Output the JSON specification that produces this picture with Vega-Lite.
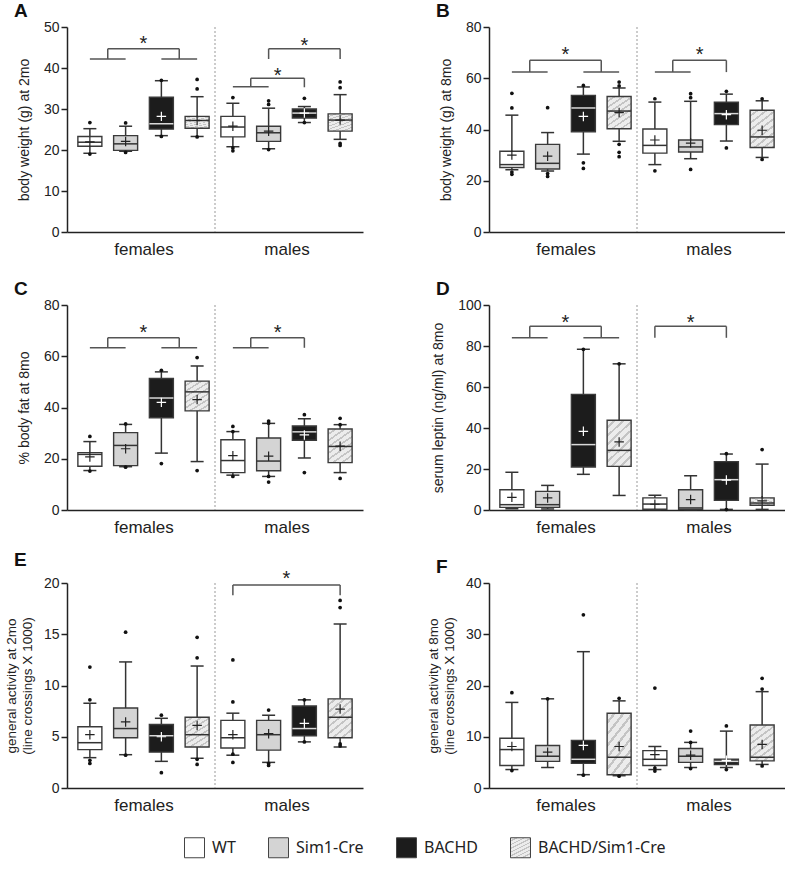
{
"$schema": "https://vega.github.io/schema/vega-lite/v6.json",
"background": "white",
"padding": {"left": 4, "top": 2, "right": 0, "bottom": 0},
"config": {
  "view": {"stroke": null},
  "font": "Liberation Sans",
  "axis": {"domainColor": "#222", "domainWidth": 1.5, "tickColor": "#222", "tickWidth": 1.5, "tickSize": 6, "labelFontSize": 14, "labelColor": "#222", "titleFontSize": 14, "titleFontWeight": "normal", "titleColor": "#222", "grid": false, "labelPadding": 2, "labelFont": "Liberation Sans", "titleFont": "Liberation Sans"},
  "axisY": {"titlePadding": 12},
  "title": {"anchor": "start", "frame": "group", "dx": -53, "fontSize": 19, "fontWeight": "bold", "offset": -1, "color": "#111", "font": "Liberation Sans"}
},
"datasets": {
  "box": [
    {"p":"A","pos":1,"g":"WT","lo":19.2,"q1":20.9,"med":21.9,"q3":23.3,"hi":25.2,"mean":22.0},
    {"p":"A","pos":2,"g":"Sim1-Cre","lo":19.7,"q1":19.9,"med":21.5,"q3":23.5,"hi":25.8,"mean":22.1},
    {"p":"A","pos":3,"g":"BACHD","lo":23.5,"q1":25.1,"med":26.4,"q3":32.9,"hi":36.9,"mean":28.2},
    {"p":"A","pos":4,"g":"BACHD/Sim1-Cre","lo":23.3,"q1":25.3,"med":27.2,"q3":28.2,"hi":33.0,"mean":27.2},
    {"p":"A","pos":5,"g":"WT","lo":20.8,"q1":23.2,"med":25.6,"q3":28.2,"hi":31.4,"mean":25.8},
    {"p":"A","pos":6,"g":"Sim1-Cre","lo":20.3,"q1":22.1,"med":24.2,"q3":25.8,"hi":30.2,"mean":24.6},
    {"p":"A","pos":7,"g":"BACHD","lo":26.7,"q1":27.8,"med":29.0,"q3":30.0,"hi":30.6,"mean":29.0},
    {"p":"A","pos":8,"g":"BACHD/Sim1-Cre","lo":22.6,"q1":24.6,"med":27.3,"q3":28.8,"hi":33.5,"mean":27.3},
    {"p":"B","pos":1,"g":"WT","lo":24.3,"q1":25.2,"med":26.3,"q3":31.5,"hi":45.6,"mean":30.0},
    {"p":"B","pos":2,"g":"Sim1-Cre","lo":23.8,"q1":24.6,"med":26.8,"q3":34.2,"hi":38.8,"mean":29.6},
    {"p":"B","pos":3,"g":"BACHD","lo":30.4,"q1":39.1,"med":48.4,"q3":53.3,"hi":56.6,"mean":45.1},
    {"p":"B","pos":4,"g":"BACHD/Sim1-Cre","lo":35.4,"q1":40.3,"med":47.2,"q3":52.9,"hi":56.2,"mean":46.6},
    {"p":"B","pos":5,"g":"WT","lo":26.3,"q1":30.8,"med":33.8,"q3":40.2,"hi":50.7,"mean":35.9},
    {"p":"B","pos":6,"g":"Sim1-Cre","lo":28.6,"q1":31.2,"med":33.2,"q3":35.9,"hi":51.0,"mean":34.7},
    {"p":"B","pos":7,"g":"BACHD","lo":35.5,"q1":41.9,"med":46.2,"q3":50.7,"hi":53.8,"mean":45.8},
    {"p":"B","pos":8,"g":"BACHD/Sim1-Cre","lo":29.1,"q1":33.0,"med":37.1,"q3":47.5,"hi":51.2,"mean":39.7},
    {"p":"C","pos":1,"g":"WT","lo":15.4,"q1":17.1,"med":21.7,"q3":22.4,"hi":26.7,"mean":20.7},
    {"p":"C","pos":2,"g":"Sim1-Cre","lo":16.9,"q1":17.3,"med":25.2,"q3":30.2,"hi":33.4,"mean":23.9},
    {"p":"C","pos":3,"g":"BACHD","lo":22.2,"q1":36.0,"med":43.7,"q3":51.3,"hi":53.9,"mean":42.0},
    {"p":"C","pos":4,"g":"BACHD/Sim1-Cre","lo":18.9,"q1":38.7,"med":46.1,"q3":50.3,"hi":56.2,"mean":43.1},
    {"p":"C","pos":5,"g":"WT","lo":13.6,"q1":14.6,"med":19.3,"q3":27.4,"hi":30.6,"mean":21.2},
    {"p":"C","pos":6,"g":"Sim1-Cre","lo":13.1,"q1":15.3,"med":19.1,"q3":28.1,"hi":33.8,"mean":21.0},
    {"p":"C","pos":7,"g":"BACHD","lo":20.3,"q1":27.2,"med":30.5,"q3":32.8,"hi":35.6,"mean":29.3},
    {"p":"C","pos":8,"g":"BACHD/Sim1-Cre","lo":14.6,"q1":18.5,"med":24.8,"q3":31.6,"hi":33.3,"mean":24.9},
    {"p":"D","pos":1,"g":"WT","lo":0.6,"q1":1.3,"med":2.6,"q3":9.9,"hi":18.4,"mean":6.2},
    {"p":"D","pos":2,"g":"Sim1-Cre","lo":0.5,"q1":1.3,"med":2.6,"q3":9.1,"hi":12.0,"mean":5.9},
    {"p":"D","pos":3,"g":"BACHD","lo":17.4,"q1":21.0,"med":31.9,"q3":56.4,"hi":78.4,"mean":38.4},
    {"p":"D","pos":4,"g":"BACHD/Sim1-Cre","lo":7.1,"q1":21.3,"med":29.1,"q3":43.8,"hi":71.3,"mean":33.2},
    {"p":"D","pos":5,"g":"WT","lo":0.2,"q1":0.4,"med":2.9,"q3":5.9,"hi":7.2,"mean":2.8},
    {"p":"D","pos":6,"g":"Sim1-Cre","lo":0.2,"q1":0.3,"med":1.0,"q3":9.9,"hi":16.7,"mean":5.1},
    {"p":"D","pos":7,"g":"BACHD","lo":0.3,"q1":4.7,"med":14.8,"q3":23.6,"hi":27.3,"mean":14.6},
    {"p":"D","pos":8,"g":"BACHD/Sim1-Cre","lo":0.3,"q1":2.3,"med":3.4,"q3":5.9,"hi":22.4,"mean":4.5},
    {"p":"E","pos":1,"g":"WT","lo":2.96,"q1":3.74,"med":4.42,"q3":5.98,"hi":8.27,"mean":5.2},
    {"p":"E","pos":2,"g":"Sim1-Cre","lo":3.25,"q1":4.9,"med":5.8,"q3":7.8,"hi":12.3,"mean":6.45},
    {"p":"E","pos":3,"g":"BACHD","lo":2.6,"q1":3.5,"med":5.1,"q3":6.2,"hi":6.8,"mean":5.0},
    {"p":"E","pos":4,"g":"BACHD/Sim1-Cre","lo":2.9,"q1":4.0,"med":5.2,"q3":6.9,"hi":11.9,"mean":6.1},
    {"p":"E","pos":5,"g":"WT","lo":3.2,"q1":3.9,"med":4.9,"q3":6.6,"hi":7.3,"mean":5.2},
    {"p":"E","pos":6,"g":"Sim1-Cre","lo":2.5,"q1":3.7,"med":5.2,"q3":6.6,"hi":7.1,"mean":5.3},
    {"p":"E","pos":7,"g":"BACHD","lo":4.5,"q1":5.1,"med":5.8,"q3":8.0,"hi":8.6,"mean":6.3},
    {"p":"E","pos":8,"g":"BACHD/Sim1-Cre","lo":4.0,"q1":4.9,"med":6.9,"q3":8.7,"hi":16.0,"mean":7.7},
    {"p":"F","pos":1,"g":"WT","lo":3.6,"q1":4.4,"med":7.5,"q3":9.7,"hi":16.7,"mean":8.1},
    {"p":"F","pos":2,"g":"Sim1-Cre","lo":4.0,"q1":5.2,"med":6.2,"q3":8.3,"hi":17.4,"mean":7.0},
    {"p":"F","pos":3,"g":"BACHD","lo":2.6,"q1":4.8,"med":5.6,"q3":9.3,"hi":26.6,"mean":8.3},
    {"p":"F","pos":4,"g":"BACHD/Sim1-Cre","lo":2.4,"q1":2.6,"med":6.0,"q3":14.6,"hi":17.0,"mean":8.1},
    {"p":"F","pos":5,"g":"WT","lo":3.6,"q1":4.4,"med":5.6,"q3":7.3,"hi":8.1,"mean":6.5},
    {"p":"F","pos":6,"g":"Sim1-Cre","lo":4.0,"q1":5.0,"med":6.2,"q3":7.7,"hi":8.9,"mean":6.4},
    {"p":"F","pos":7,"g":"BACHD","lo":4.0,"q1":4.6,"med":5.2,"q3":5.6,"hi":11.1,"mean":5.4},
    {"p":"F","pos":8,"g":"BACHD/Sim1-Cre","lo":4.6,"q1":5.3,"med":6.0,"q3":12.3,"hi":18.8,"mean":8.5}
  ],
  "out": [
    {"p":"A","pos":1,"v":26.7},{"p":"A","pos":1,"v":19.0},{"p":"A","pos":2,"v":26.6},{"p":"A","pos":2,"v":19.4},
    {"p":"A","pos":3,"v":37.0},{"p":"A","pos":3,"v":23.3},{"p":"A","pos":4,"v":37.2},{"p":"A","pos":4,"v":34.9},{"p":"A","pos":4,"v":23.2},
    {"p":"A","pos":5,"v":32.8},{"p":"A","pos":5,"v":20.5},{"p":"A","pos":5,"v":19.8},{"p":"A","pos":6,"v":32.0},{"p":"A","pos":6,"v":31.1},{"p":"A","pos":6,"v":20.1},
    {"p":"A","pos":7,"v":32.6},{"p":"A","pos":7,"v":26.7},{"p":"A","pos":8,"v":36.6},{"p":"A","pos":8,"v":35.2},{"p":"A","pos":8,"v":21.6},{"p":"A","pos":8,"v":21.1},
    {"p":"B","pos":1,"v":54.1},{"p":"B","pos":1,"v":48.4},{"p":"B","pos":1,"v":23.4},{"p":"B","pos":1,"v":22.5},
    {"p":"B","pos":2,"v":48.5},{"p":"B","pos":2,"v":22.8},{"p":"B","pos":2,"v":21.7},
    {"p":"B","pos":3,"v":57.2},{"p":"B","pos":3,"v":27.0},{"p":"B","pos":3,"v":24.8},
    {"p":"B","pos":4,"v":58.5},{"p":"B","pos":4,"v":57.0},{"p":"B","pos":4,"v":34.2},{"p":"B","pos":4,"v":31.1},{"p":"B","pos":4,"v":29.4},
    {"p":"B","pos":5,"v":52.0},{"p":"B","pos":5,"v":23.9},{"p":"B","pos":6,"v":54.0},{"p":"B","pos":6,"v":52.4},{"p":"B","pos":6,"v":24.4},
    {"p":"B","pos":7,"v":54.9},{"p":"B","pos":7,"v":32.8},{"p":"B","pos":8,"v":52.0},{"p":"B","pos":8,"v":28.3},
    {"p":"C","pos":1,"v":28.7},{"p":"C","pos":1,"v":15.2},{"p":"C","pos":2,"v":33.6},{"p":"C","pos":2,"v":16.7},
    {"p":"C","pos":3,"v":54.5},{"p":"C","pos":3,"v":18.1},{"p":"C","pos":4,"v":59.5},{"p":"C","pos":4,"v":15.4},
    {"p":"C","pos":5,"v":32.6},{"p":"C","pos":5,"v":30.6},{"p":"C","pos":5,"v":13.1},
    {"p":"C","pos":6,"v":34.7},{"p":"C","pos":6,"v":33.9},{"p":"C","pos":6,"v":13.1},{"p":"C","pos":6,"v":10.9},
    {"p":"C","pos":7,"v":37.2},{"p":"C","pos":7,"v":14.6},{"p":"C","pos":8,"v":35.8},{"p":"C","pos":8,"v":33.3},{"p":"C","pos":8,"v":12.3},
    {"p":"D","pos":3,"v":78.4},{"p":"D","pos":4,"v":71.3},{"p":"D","pos":7,"v":27.5},{"p":"D","pos":7,"v":0.2},{"p":"D","pos":8,"v":29.5},
    {"p":"E","pos":1,"v":11.8},{"p":"E","pos":1,"v":8.6},{"p":"E","pos":1,"v":2.7},{"p":"E","pos":1,"v":2.4},
    {"p":"E","pos":2,"v":15.2},{"p":"E","pos":2,"v":3.2},{"p":"E","pos":3,"v":7.1},{"p":"E","pos":3,"v":1.5},
    {"p":"E","pos":4,"v":14.7},{"p":"E","pos":4,"v":12.7},{"p":"E","pos":4,"v":2.8},{"p":"E","pos":4,"v":2.3},
    {"p":"E","pos":5,"v":12.5},{"p":"E","pos":5,"v":8.4},{"p":"E","pos":5,"v":3.3},{"p":"E","pos":5,"v":2.5},
    {"p":"E","pos":6,"v":7.6},{"p":"E","pos":6,"v":2.4},{"p":"E","pos":6,"v":2.2},{"p":"E","pos":7,"v":8.6},{"p":"E","pos":7,"v":4.5},
    {"p":"E","pos":8,"v":18.3},{"p":"E","pos":8,"v":17.6},{"p":"E","pos":8,"v":4.3},{"p":"E","pos":8,"v":4.1},
    {"p":"F","pos":1,"v":18.6},{"p":"F","pos":1,"v":3.4},{"p":"F","pos":2,"v":17.4},{"p":"F","pos":3,"v":33.8},{"p":"F","pos":3,"v":2.5},
    {"p":"F","pos":4,"v":17.5},{"p":"F","pos":4,"v":2.3},{"p":"F","pos":5,"v":19.5},{"p":"F","pos":5,"v":3.9},{"p":"F","pos":5,"v":3.3},
    {"p":"F","pos":6,"v":11.1},{"p":"F","pos":6,"v":8.9},{"p":"F","pos":6,"v":3.8},{"p":"F","pos":7,"v":12.1},{"p":"F","pos":7,"v":3.6},
    {"p":"F","pos":8,"v":21.4},{"p":"F","pos":8,"v":19.3},{"p":"F","pos":8,"v":4.3}
  ],
  "br": [
    {"p":"A","x":1,"x2":2,"y":42.2,"y2":42.2},{"p":"A","x":1.5,"x2":1.5,"y":42.2,"y2":44.7},{"p":"A","x":1.5,"x2":3.5,"y":44.7,"y2":44.7},{"p":"A","x":3.5,"x2":3.5,"y":44.7,"y2":42.2},{"p":"A","x":3,"x2":4,"y":42.2,"y2":42.2},
    {"p":"A","x":5,"x2":6,"y":35.4,"y2":35.4},{"p":"A","x":5.5,"x2":5.5,"y":35.4,"y2":37.5},{"p":"A","x":5.5,"x2":7,"y":37.5,"y2":37.5},{"p":"A","x":7,"x2":7,"y":37.5,"y2":35.3},
    {"p":"A","x":6,"x2":6,"y":42.2,"y2":44.7},{"p":"A","x":6,"x2":8,"y":44.7,"y2":44.7},{"p":"A","x":8,"x2":8,"y":44.7,"y2":42.2},
    {"p":"B","x":1,"x2":2,"y":62.4,"y2":62.4},{"p":"B","x":1.5,"x2":1.5,"y":62.4,"y2":67},{"p":"B","x":1.5,"x2":3.5,"y":67,"y2":67},{"p":"B","x":3.5,"x2":3.5,"y":67,"y2":62.4},{"p":"B","x":3,"x2":4,"y":62.4,"y2":62.4},
    {"p":"B","x":5,"x2":6,"y":62.4,"y2":62.4},{"p":"B","x":5.5,"x2":5.5,"y":62.4,"y2":67},{"p":"B","x":5.5,"x2":7,"y":67,"y2":67},{"p":"B","x":7,"x2":7,"y":67,"y2":62.4},
    {"p":"C","x":1,"x2":2,"y":63.3,"y2":63.3},{"p":"C","x":1.5,"x2":1.5,"y":63.3,"y2":67.2},{"p":"C","x":1.5,"x2":3.5,"y":67.2,"y2":67.2},{"p":"C","x":3.5,"x2":3.5,"y":67.2,"y2":63.3},{"p":"C","x":3,"x2":4,"y":63.3,"y2":63.3},
    {"p":"C","x":5,"x2":6,"y":63.3,"y2":63.3},{"p":"C","x":5.5,"x2":5.5,"y":63.3,"y2":67.2},{"p":"C","x":5.5,"x2":7,"y":67.2,"y2":67.2},{"p":"C","x":7,"x2":7,"y":67.2,"y2":63.3},
    {"p":"D","x":1,"x2":2,"y":84,"y2":84},{"p":"D","x":1.5,"x2":1.5,"y":84,"y2":89.6},{"p":"D","x":1.5,"x2":3.5,"y":89.6,"y2":89.6},{"p":"D","x":3.5,"x2":3.5,"y":89.6,"y2":84},{"p":"D","x":3,"x2":4,"y":84,"y2":84},
    {"p":"D","x":5,"x2":5,"y":84,"y2":89.6},{"p":"D","x":5,"x2":7,"y":89.6,"y2":89.6},{"p":"D","x":7,"x2":7,"y":89.6,"y2":84},
    {"p":"E","x":5,"x2":5,"y":18.8,"y2":19.8},{"p":"E","x":5,"x2":8,"y":19.8,"y2":19.8},{"p":"E","x":8,"x2":8,"y":19.8,"y2":18.8}
  ],
  "st": [
    {"p":"A","x":2.5,"y":47.1},{"p":"A","x":6.25,"y":39.2},{"p":"A","x":7,"y":46.5},
    {"p":"B","x":2.5,"y":70.9},{"p":"B","x":6.25,"y":70.9},
    {"p":"C","x":2.5,"y":71.1},{"p":"C","x":6.25,"y":71.1},
    {"p":"D","x":2.5,"y":93.5},{"p":"D","x":6,"y":93.5},
    {"p":"E","x":6.5,"y":20.9}
  ],
  "sep": [{"s": 4.5}]
},
"columns": 2,
"bounds": "flush",
"spacing": {"row": 73, "column": 126},
"concat": [
 {"width": 296, "height": 205, "title": "A",
  "layer": [
   {"data": {"name": "box"}, "transform": [{"filter": "datum.p === 'A'"}],
    "encoding": {"x": {"field": "pos", "type": "quantitative", "scale": {"domain": [0.5, 8.5], "nice": false, "zero": false}, "axis": {"values": [2.5, 6.5], "labelExpr": "datum.value < 4.5 ? 'females' : 'males'", "ticks": false, "title": null, "labelFontSize": 17, "labelPadding": 9}}},
    "layer": [
     {"mark": {"type": "rule", "color": "#333", "strokeWidth": 1.5}, "encoding": {"y": {"field": "lo", "type": "quantitative", "scale": {"domain": [0, 50], "nice": false}, "axis": {"values": [0, 10, 20, 30, 40, 50], "title": "body weight (g) at 2mo"}}, "y2": {"field": "hi"}}},
     {"mark": {"type": "tick", "orient": "horizontal", "color": "#333", "size": 13, "thickness": 1.5, "opacity": 1}, "encoding": {"y": {"field": "lo", "type": "quantitative"}}},
     {"mark": {"type": "tick", "orient": "horizontal", "color": "#333", "size": 13, "thickness": 1.5, "opacity": 1}, "encoding": {"y": {"field": "hi", "type": "quantitative"}}},
     {"mark": {"type": "bar", "size": 24, "stroke": "#3a3a3a", "strokeWidth": 1.4}, "encoding": {"y": {"field": "q3", "type": "quantitative"}, "y2": {"field": "q1"},
       "fill": {"field": "g", "type": "nominal", "scale": {"domain": ["WT", "Sim1-Cre", "BACHD", "BACHD/Sim1-Cre"], "range": ["#ffffff", "#d4d4d4", "#1c1c1c", {"expr": "{gradient: 'linear', x1: 0, y1: 0, x2: 0.6, y2: 1.2, stops: [{offset: 0, color: '#ececec'}, {offset: 0.085, color: '#ececec'}, {offset: 0.085, color: '#c4c4c4'}, {offset: 0.125, color: '#c4c4c4'}, {offset: 0.125, color: '#ececec'}, {offset: 0.21, color: '#ececec'}, {offset: 0.21, color: '#c4c4c4'}, {offset: 0.25, color: '#c4c4c4'}, {offset: 0.25, color: '#ececec'}, {offset: 0.335, color: '#ececec'}, {offset: 0.335, color: '#c4c4c4'}, {offset: 0.375, color: '#c4c4c4'}, {offset: 0.375, color: '#ececec'}, {offset: 0.46, color: '#ececec'}, {offset: 0.46, color: '#c4c4c4'}, {offset: 0.5, color: '#c4c4c4'}, {offset: 0.5, color: '#ececec'}, {offset: 0.585, color: '#ececec'}, {offset: 0.585, color: '#c4c4c4'}, {offset: 0.625, color: '#c4c4c4'}, {offset: 0.625, color: '#ececec'}, {offset: 0.71, color: '#ececec'}, {offset: 0.71, color: '#c4c4c4'}, {offset: 0.75, color: '#c4c4c4'}, {offset: 0.75, color: '#ececec'}, {offset: 0.835, color: '#ececec'}, {offset: 0.835, color: '#c4c4c4'}, {offset: 0.875, color: '#c4c4c4'}, {offset: 0.875, color: '#ececec'}, {offset: 0.96, color: '#ececec'}, {offset: 0.96, color: '#c4c4c4'}, {offset: 1, color: '#c4c4c4'}]}"}]},
         "legend": {"orient": "none", "legendX": 117, "legendY": 810, "direction": "horizontal", "title": null, "symbolType": "square", "symbolSize": 400, "symbolStrokeColor": "#444", "symbolStrokeWidth": 1, "labelFont": "Noto Sans", "labelFontSize": 16, "labelColor": "#222", "columnPadding": 30, "labelOffset": 7}}}},
     {"mark": {"type": "tick", "orient": "horizontal", "size": 24, "thickness": 1.5, "opacity": 1}, "encoding": {"y": {"field": "med", "type": "quantitative"}, "color": {"condition": {"test": "datum.g === 'BACHD'", "value": "#d9d9d9"}, "value": "#333"}}},
     {"mark": {"type": "point", "shape": "M-1,0L1,0M0,-1L0,1", "size": 90, "filled": false, "strokeWidth": 1.2, "opacity": 1}, "encoding": {"y": {"field": "mean", "type": "quantitative"}, "stroke": {"condition": {"test": "datum.g === 'BACHD'", "value": "#ffffff"}, "value": "#222"}}}
    ]},
   {"data": {"name": "out"}, "transform": [{"filter": "datum.p === 'A'"}], "mark": {"type": "circle", "size": 14, "color": "#111", "opacity": 1}, "encoding": {"x": {"field": "pos", "type": "quantitative"}, "y": {"field": "v", "type": "quantitative"}}},
   {"data": {"name": "br"}, "transform": [{"filter": "datum.p === 'A'"}], "mark": {"type": "rule", "color": "#555", "strokeWidth": 1.5}, "encoding": {"x": {"field": "x", "type": "quantitative"}, "x2": {"field": "x2"}, "y": {"field": "y", "type": "quantitative"}, "y2": {"field": "y2"}}},
   {"data": {"name": "st"}, "transform": [{"filter": "datum.p === 'A'"}], "mark": {"type": "text", "text": "*", "fontSize": 20, "dy": 11, "baseline": "alphabetic", "align": "center", "color": "#222"}, "encoding": {"x": {"field": "x", "type": "quantitative"}, "y": {"field": "y", "type": "quantitative"}}},
   {"data": {"name": "sep"}, "mark": {"type": "rule", "color": "#999", "strokeDash": [2, 2], "strokeWidth": 1}, "encoding": {"x": {"field": "s", "type": "quantitative"}}}
  ]},
 {"width": 296, "height": 205, "title": "B",
  "layer": [
   {"data": {"name": "box"}, "transform": [{"filter": "datum.p === 'B'"}],
    "encoding": {"x": {"field": "pos", "type": "quantitative", "scale": {"domain": [0.5, 8.5], "nice": false, "zero": false}, "axis": {"values": [2.5, 6.5], "labelExpr": "datum.value < 4.5 ? 'females' : 'males'", "ticks": false, "title": null, "labelFontSize": 17, "labelPadding": 9}}},
    "layer": [
     {"mark": {"type": "rule", "color": "#333", "strokeWidth": 1.5}, "encoding": {"y": {"field": "lo", "type": "quantitative", "scale": {"domain": [0, 80], "nice": false}, "axis": {"values": [0, 20, 40, 60, 80], "title": "body weight (g) at 8mo"}}, "y2": {"field": "hi"}}},
     {"mark": {"type": "tick", "orient": "horizontal", "color": "#333", "size": 13, "thickness": 1.5, "opacity": 1}, "encoding": {"y": {"field": "lo", "type": "quantitative"}}},
     {"mark": {"type": "tick", "orient": "horizontal", "color": "#333", "size": 13, "thickness": 1.5, "opacity": 1}, "encoding": {"y": {"field": "hi", "type": "quantitative"}}},
     {"mark": {"type": "bar", "size": 24, "stroke": "#3a3a3a", "strokeWidth": 1.4}, "encoding": {"y": {"field": "q3", "type": "quantitative"}, "y2": {"field": "q1"},
       "fill": {"field": "g", "type": "nominal", "scale": {"domain": ["WT", "Sim1-Cre", "BACHD", "BACHD/Sim1-Cre"], "range": ["#ffffff", "#d4d4d4", "#1c1c1c", {"expr": "{gradient: 'linear', x1: 0, y1: 0, x2: 0.6, y2: 1.2, stops: [{offset: 0, color: '#ececec'}, {offset: 0.085, color: '#ececec'}, {offset: 0.085, color: '#c4c4c4'}, {offset: 0.125, color: '#c4c4c4'}, {offset: 0.125, color: '#ececec'}, {offset: 0.21, color: '#ececec'}, {offset: 0.21, color: '#c4c4c4'}, {offset: 0.25, color: '#c4c4c4'}, {offset: 0.25, color: '#ececec'}, {offset: 0.335, color: '#ececec'}, {offset: 0.335, color: '#c4c4c4'}, {offset: 0.375, color: '#c4c4c4'}, {offset: 0.375, color: '#ececec'}, {offset: 0.46, color: '#ececec'}, {offset: 0.46, color: '#c4c4c4'}, {offset: 0.5, color: '#c4c4c4'}, {offset: 0.5, color: '#ececec'}, {offset: 0.585, color: '#ececec'}, {offset: 0.585, color: '#c4c4c4'}, {offset: 0.625, color: '#c4c4c4'}, {offset: 0.625, color: '#ececec'}, {offset: 0.71, color: '#ececec'}, {offset: 0.71, color: '#c4c4c4'}, {offset: 0.75, color: '#c4c4c4'}, {offset: 0.75, color: '#ececec'}, {offset: 0.835, color: '#ececec'}, {offset: 0.835, color: '#c4c4c4'}, {offset: 0.875, color: '#c4c4c4'}, {offset: 0.875, color: '#ececec'}, {offset: 0.96, color: '#ececec'}, {offset: 0.96, color: '#c4c4c4'}, {offset: 1, color: '#c4c4c4'}]}"}]},
         "legend": {"orient": "none", "legendX": 117, "legendY": 810, "direction": "horizontal", "title": null, "symbolType": "square", "symbolSize": 400, "symbolStrokeColor": "#444", "symbolStrokeWidth": 1, "labelFont": "Noto Sans", "labelFontSize": 16, "labelColor": "#222", "columnPadding": 30, "labelOffset": 7}}}},
     {"mark": {"type": "tick", "orient": "horizontal", "size": 24, "thickness": 1.5, "opacity": 1}, "encoding": {"y": {"field": "med", "type": "quantitative"}, "color": {"condition": {"test": "datum.g === 'BACHD'", "value": "#d9d9d9"}, "value": "#333"}}},
     {"mark": {"type": "point", "shape": "M-1,0L1,0M0,-1L0,1", "size": 90, "filled": false, "strokeWidth": 1.2, "opacity": 1}, "encoding": {"y": {"field": "mean", "type": "quantitative"}, "stroke": {"condition": {"test": "datum.g === 'BACHD'", "value": "#ffffff"}, "value": "#222"}}}
    ]},
   {"data": {"name": "out"}, "transform": [{"filter": "datum.p === 'B'"}], "mark": {"type": "circle", "size": 14, "color": "#111", "opacity": 1}, "encoding": {"x": {"field": "pos", "type": "quantitative"}, "y": {"field": "v", "type": "quantitative"}}},
   {"data": {"name": "br"}, "transform": [{"filter": "datum.p === 'B'"}], "mark": {"type": "rule", "color": "#555", "strokeWidth": 1.5}, "encoding": {"x": {"field": "x", "type": "quantitative"}, "x2": {"field": "x2"}, "y": {"field": "y", "type": "quantitative"}, "y2": {"field": "y2"}}},
   {"data": {"name": "st"}, "transform": [{"filter": "datum.p === 'B'"}], "mark": {"type": "text", "text": "*", "fontSize": 20, "dy": 11, "baseline": "alphabetic", "align": "center", "color": "#222"}, "encoding": {"x": {"field": "x", "type": "quantitative"}, "y": {"field": "y", "type": "quantitative"}}},
   {"data": {"name": "sep"}, "mark": {"type": "rule", "color": "#999", "strokeDash": [2, 2], "strokeWidth": 1}, "encoding": {"x": {"field": "s", "type": "quantitative"}}}
  ]},
 {"width": 296, "height": 205, "title": "C",
  "layer": [
   {"data": {"name": "box"}, "transform": [{"filter": "datum.p === 'C'"}],
    "encoding": {"x": {"field": "pos", "type": "quantitative", "scale": {"domain": [0.5, 8.5], "nice": false, "zero": false}, "axis": {"values": [2.5, 6.5], "labelExpr": "datum.value < 4.5 ? 'females' : 'males'", "ticks": false, "title": null, "labelFontSize": 17, "labelPadding": 9}}},
    "layer": [
     {"mark": {"type": "rule", "color": "#333", "strokeWidth": 1.5}, "encoding": {"y": {"field": "lo", "type": "quantitative", "scale": {"domain": [0, 80], "nice": false}, "axis": {"values": [0, 20, 40, 60, 80], "title": "% body fat at 8mo"}}, "y2": {"field": "hi"}}},
     {"mark": {"type": "tick", "orient": "horizontal", "color": "#333", "size": 13, "thickness": 1.5, "opacity": 1}, "encoding": {"y": {"field": "lo", "type": "quantitative"}}},
     {"mark": {"type": "tick", "orient": "horizontal", "color": "#333", "size": 13, "thickness": 1.5, "opacity": 1}, "encoding": {"y": {"field": "hi", "type": "quantitative"}}},
     {"mark": {"type": "bar", "size": 24, "stroke": "#3a3a3a", "strokeWidth": 1.4}, "encoding": {"y": {"field": "q3", "type": "quantitative"}, "y2": {"field": "q1"},
       "fill": {"field": "g", "type": "nominal", "scale": {"domain": ["WT", "Sim1-Cre", "BACHD", "BACHD/Sim1-Cre"], "range": ["#ffffff", "#d4d4d4", "#1c1c1c", {"expr": "{gradient: 'linear', x1: 0, y1: 0, x2: 0.6, y2: 1.2, stops: [{offset: 0, color: '#ececec'}, {offset: 0.085, color: '#ececec'}, {offset: 0.085, color: '#c4c4c4'}, {offset: 0.125, color: '#c4c4c4'}, {offset: 0.125, color: '#ececec'}, {offset: 0.21, color: '#ececec'}, {offset: 0.21, color: '#c4c4c4'}, {offset: 0.25, color: '#c4c4c4'}, {offset: 0.25, color: '#ececec'}, {offset: 0.335, color: '#ececec'}, {offset: 0.335, color: '#c4c4c4'}, {offset: 0.375, color: '#c4c4c4'}, {offset: 0.375, color: '#ececec'}, {offset: 0.46, color: '#ececec'}, {offset: 0.46, color: '#c4c4c4'}, {offset: 0.5, color: '#c4c4c4'}, {offset: 0.5, color: '#ececec'}, {offset: 0.585, color: '#ececec'}, {offset: 0.585, color: '#c4c4c4'}, {offset: 0.625, color: '#c4c4c4'}, {offset: 0.625, color: '#ececec'}, {offset: 0.71, color: '#ececec'}, {offset: 0.71, color: '#c4c4c4'}, {offset: 0.75, color: '#c4c4c4'}, {offset: 0.75, color: '#ececec'}, {offset: 0.835, color: '#ececec'}, {offset: 0.835, color: '#c4c4c4'}, {offset: 0.875, color: '#c4c4c4'}, {offset: 0.875, color: '#ececec'}, {offset: 0.96, color: '#ececec'}, {offset: 0.96, color: '#c4c4c4'}, {offset: 1, color: '#c4c4c4'}]}"}]},
         "legend": {"orient": "none", "legendX": 117, "legendY": 810, "direction": "horizontal", "title": null, "symbolType": "square", "symbolSize": 400, "symbolStrokeColor": "#444", "symbolStrokeWidth": 1, "labelFont": "Noto Sans", "labelFontSize": 16, "labelColor": "#222", "columnPadding": 30, "labelOffset": 7}}}},
     {"mark": {"type": "tick", "orient": "horizontal", "size": 24, "thickness": 1.5, "opacity": 1}, "encoding": {"y": {"field": "med", "type": "quantitative"}, "color": {"condition": {"test": "datum.g === 'BACHD'", "value": "#d9d9d9"}, "value": "#333"}}},
     {"mark": {"type": "point", "shape": "M-1,0L1,0M0,-1L0,1", "size": 90, "filled": false, "strokeWidth": 1.2, "opacity": 1}, "encoding": {"y": {"field": "mean", "type": "quantitative"}, "stroke": {"condition": {"test": "datum.g === 'BACHD'", "value": "#ffffff"}, "value": "#222"}}}
    ]},
   {"data": {"name": "out"}, "transform": [{"filter": "datum.p === 'C'"}], "mark": {"type": "circle", "size": 14, "color": "#111", "opacity": 1}, "encoding": {"x": {"field": "pos", "type": "quantitative"}, "y": {"field": "v", "type": "quantitative"}}},
   {"data": {"name": "br"}, "transform": [{"filter": "datum.p === 'C'"}], "mark": {"type": "rule", "color": "#555", "strokeWidth": 1.5}, "encoding": {"x": {"field": "x", "type": "quantitative"}, "x2": {"field": "x2"}, "y": {"field": "y", "type": "quantitative"}, "y2": {"field": "y2"}}},
   {"data": {"name": "st"}, "transform": [{"filter": "datum.p === 'C'"}], "mark": {"type": "text", "text": "*", "fontSize": 20, "dy": 11, "baseline": "alphabetic", "align": "center", "color": "#222"}, "encoding": {"x": {"field": "x", "type": "quantitative"}, "y": {"field": "y", "type": "quantitative"}}},
   {"data": {"name": "sep"}, "mark": {"type": "rule", "color": "#999", "strokeDash": [2, 2], "strokeWidth": 1}, "encoding": {"x": {"field": "s", "type": "quantitative"}}}
  ]},
 {"width": 296, "height": 205, "title": "D",
  "layer": [
   {"data": {"name": "box"}, "transform": [{"filter": "datum.p === 'D'"}],
    "encoding": {"x": {"field": "pos", "type": "quantitative", "scale": {"domain": [0.5, 8.5], "nice": false, "zero": false}, "axis": {"values": [2.5, 6.5], "labelExpr": "datum.value < 4.5 ? 'females' : 'males'", "ticks": false, "title": null, "labelFontSize": 17, "labelPadding": 9}}},
    "layer": [
     {"mark": {"type": "rule", "color": "#333", "strokeWidth": 1.5}, "encoding": {"y": {"field": "lo", "type": "quantitative", "scale": {"domain": [0, 100], "nice": false}, "axis": {"values": [0, 20, 40, 60, 80, 100], "title": "serum leptin (ng/ml) at 8mo"}}, "y2": {"field": "hi"}}},
     {"mark": {"type": "tick", "orient": "horizontal", "color": "#333", "size": 13, "thickness": 1.5, "opacity": 1}, "encoding": {"y": {"field": "lo", "type": "quantitative"}}},
     {"mark": {"type": "tick", "orient": "horizontal", "color": "#333", "size": 13, "thickness": 1.5, "opacity": 1}, "encoding": {"y": {"field": "hi", "type": "quantitative"}}},
     {"mark": {"type": "bar", "size": 24, "stroke": "#3a3a3a", "strokeWidth": 1.4}, "encoding": {"y": {"field": "q3", "type": "quantitative"}, "y2": {"field": "q1"},
       "fill": {"field": "g", "type": "nominal", "scale": {"domain": ["WT", "Sim1-Cre", "BACHD", "BACHD/Sim1-Cre"], "range": ["#ffffff", "#d4d4d4", "#1c1c1c", {"expr": "{gradient: 'linear', x1: 0, y1: 0, x2: 0.6, y2: 1.2, stops: [{offset: 0, color: '#ececec'}, {offset: 0.085, color: '#ececec'}, {offset: 0.085, color: '#c4c4c4'}, {offset: 0.125, color: '#c4c4c4'}, {offset: 0.125, color: '#ececec'}, {offset: 0.21, color: '#ececec'}, {offset: 0.21, color: '#c4c4c4'}, {offset: 0.25, color: '#c4c4c4'}, {offset: 0.25, color: '#ececec'}, {offset: 0.335, color: '#ececec'}, {offset: 0.335, color: '#c4c4c4'}, {offset: 0.375, color: '#c4c4c4'}, {offset: 0.375, color: '#ececec'}, {offset: 0.46, color: '#ececec'}, {offset: 0.46, color: '#c4c4c4'}, {offset: 0.5, color: '#c4c4c4'}, {offset: 0.5, color: '#ececec'}, {offset: 0.585, color: '#ececec'}, {offset: 0.585, color: '#c4c4c4'}, {offset: 0.625, color: '#c4c4c4'}, {offset: 0.625, color: '#ececec'}, {offset: 0.71, color: '#ececec'}, {offset: 0.71, color: '#c4c4c4'}, {offset: 0.75, color: '#c4c4c4'}, {offset: 0.75, color: '#ececec'}, {offset: 0.835, color: '#ececec'}, {offset: 0.835, color: '#c4c4c4'}, {offset: 0.875, color: '#c4c4c4'}, {offset: 0.875, color: '#ececec'}, {offset: 0.96, color: '#ececec'}, {offset: 0.96, color: '#c4c4c4'}, {offset: 1, color: '#c4c4c4'}]}"}]},
         "legend": {"orient": "none", "legendX": 117, "legendY": 810, "direction": "horizontal", "title": null, "symbolType": "square", "symbolSize": 400, "symbolStrokeColor": "#444", "symbolStrokeWidth": 1, "labelFont": "Noto Sans", "labelFontSize": 16, "labelColor": "#222", "columnPadding": 30, "labelOffset": 7}}}},
     {"mark": {"type": "tick", "orient": "horizontal", "size": 24, "thickness": 1.5, "opacity": 1}, "encoding": {"y": {"field": "med", "type": "quantitative"}, "color": {"condition": {"test": "datum.g === 'BACHD'", "value": "#d9d9d9"}, "value": "#333"}}},
     {"mark": {"type": "point", "shape": "M-1,0L1,0M0,-1L0,1", "size": 90, "filled": false, "strokeWidth": 1.2, "opacity": 1}, "encoding": {"y": {"field": "mean", "type": "quantitative"}, "stroke": {"condition": {"test": "datum.g === 'BACHD'", "value": "#ffffff"}, "value": "#222"}}}
    ]},
   {"data": {"name": "out"}, "transform": [{"filter": "datum.p === 'D'"}], "mark": {"type": "circle", "size": 14, "color": "#111", "opacity": 1}, "encoding": {"x": {"field": "pos", "type": "quantitative"}, "y": {"field": "v", "type": "quantitative"}}},
   {"data": {"name": "br"}, "transform": [{"filter": "datum.p === 'D'"}], "mark": {"type": "rule", "color": "#555", "strokeWidth": 1.5}, "encoding": {"x": {"field": "x", "type": "quantitative"}, "x2": {"field": "x2"}, "y": {"field": "y", "type": "quantitative"}, "y2": {"field": "y2"}}},
   {"data": {"name": "st"}, "transform": [{"filter": "datum.p === 'D'"}], "mark": {"type": "text", "text": "*", "fontSize": 20, "dy": 11, "baseline": "alphabetic", "align": "center", "color": "#222"}, "encoding": {"x": {"field": "x", "type": "quantitative"}, "y": {"field": "y", "type": "quantitative"}}},
   {"data": {"name": "sep"}, "mark": {"type": "rule", "color": "#999", "strokeDash": [2, 2], "strokeWidth": 1}, "encoding": {"x": {"field": "s", "type": "quantitative"}}}
  ]},
 {"width": 296, "height": 205, "title": "E",
  "layer": [
   {"data": {"name": "box"}, "transform": [{"filter": "datum.p === 'E'"}],
    "encoding": {"x": {"field": "pos", "type": "quantitative", "scale": {"domain": [0.5, 8.5], "nice": false, "zero": false}, "axis": {"values": [2.5, 6.5], "labelExpr": "datum.value < 4.5 ? 'females' : 'males'", "ticks": false, "title": null, "labelFontSize": 17, "labelPadding": 9}}},
    "layer": [
     {"mark": {"type": "rule", "color": "#333", "strokeWidth": 1.5}, "encoding": {"y": {"field": "lo", "type": "quantitative", "scale": {"domain": [0, 20], "nice": false}, "axis": {"values": [0, 5, 10, 15, 20], "title": ["general activity at 2mo", "(line crossings X 1000)"], "titleFontSize": 13.5, "titlePadding": 9, "titleLineHeight": 16}}, "y2": {"field": "hi"}}},
     {"mark": {"type": "tick", "orient": "horizontal", "color": "#333", "size": 13, "thickness": 1.5, "opacity": 1}, "encoding": {"y": {"field": "lo", "type": "quantitative"}}},
     {"mark": {"type": "tick", "orient": "horizontal", "color": "#333", "size": 13, "thickness": 1.5, "opacity": 1}, "encoding": {"y": {"field": "hi", "type": "quantitative"}}},
     {"mark": {"type": "bar", "size": 24, "stroke": "#3a3a3a", "strokeWidth": 1.4}, "encoding": {"y": {"field": "q3", "type": "quantitative"}, "y2": {"field": "q1"},
       "fill": {"field": "g", "type": "nominal", "scale": {"domain": ["WT", "Sim1-Cre", "BACHD", "BACHD/Sim1-Cre"], "range": ["#ffffff", "#d4d4d4", "#1c1c1c", {"expr": "{gradient: 'linear', x1: 0, y1: 0, x2: 0.6, y2: 1.2, stops: [{offset: 0, color: '#ececec'}, {offset: 0.085, color: '#ececec'}, {offset: 0.085, color: '#c4c4c4'}, {offset: 0.125, color: '#c4c4c4'}, {offset: 0.125, color: '#ececec'}, {offset: 0.21, color: '#ececec'}, {offset: 0.21, color: '#c4c4c4'}, {offset: 0.25, color: '#c4c4c4'}, {offset: 0.25, color: '#ececec'}, {offset: 0.335, color: '#ececec'}, {offset: 0.335, color: '#c4c4c4'}, {offset: 0.375, color: '#c4c4c4'}, {offset: 0.375, color: '#ececec'}, {offset: 0.46, color: '#ececec'}, {offset: 0.46, color: '#c4c4c4'}, {offset: 0.5, color: '#c4c4c4'}, {offset: 0.5, color: '#ececec'}, {offset: 0.585, color: '#ececec'}, {offset: 0.585, color: '#c4c4c4'}, {offset: 0.625, color: '#c4c4c4'}, {offset: 0.625, color: '#ececec'}, {offset: 0.71, color: '#ececec'}, {offset: 0.71, color: '#c4c4c4'}, {offset: 0.75, color: '#c4c4c4'}, {offset: 0.75, color: '#ececec'}, {offset: 0.835, color: '#ececec'}, {offset: 0.835, color: '#c4c4c4'}, {offset: 0.875, color: '#c4c4c4'}, {offset: 0.875, color: '#ececec'}, {offset: 0.96, color: '#ececec'}, {offset: 0.96, color: '#c4c4c4'}, {offset: 1, color: '#c4c4c4'}]}"}]},
         "legend": {"orient": "none", "legendX": 117, "legendY": 810, "direction": "horizontal", "title": null, "symbolType": "square", "symbolSize": 400, "symbolStrokeColor": "#444", "symbolStrokeWidth": 1, "labelFont": "Noto Sans", "labelFontSize": 16, "labelColor": "#222", "columnPadding": 30, "labelOffset": 7}}}},
     {"mark": {"type": "tick", "orient": "horizontal", "size": 24, "thickness": 1.5, "opacity": 1}, "encoding": {"y": {"field": "med", "type": "quantitative"}, "color": {"condition": {"test": "datum.g === 'BACHD'", "value": "#d9d9d9"}, "value": "#333"}}},
     {"mark": {"type": "point", "shape": "M-1,0L1,0M0,-1L0,1", "size": 90, "filled": false, "strokeWidth": 1.2, "opacity": 1}, "encoding": {"y": {"field": "mean", "type": "quantitative"}, "stroke": {"condition": {"test": "datum.g === 'BACHD'", "value": "#ffffff"}, "value": "#222"}}}
    ]},
   {"data": {"name": "out"}, "transform": [{"filter": "datum.p === 'E'"}], "mark": {"type": "circle", "size": 14, "color": "#111", "opacity": 1}, "encoding": {"x": {"field": "pos", "type": "quantitative"}, "y": {"field": "v", "type": "quantitative"}}},
   {"data": {"name": "br"}, "transform": [{"filter": "datum.p === 'E'"}], "mark": {"type": "rule", "color": "#555", "strokeWidth": 1.5}, "encoding": {"x": {"field": "x", "type": "quantitative"}, "x2": {"field": "x2"}, "y": {"field": "y", "type": "quantitative"}, "y2": {"field": "y2"}}},
   {"data": {"name": "st"}, "transform": [{"filter": "datum.p === 'E'"}], "mark": {"type": "text", "text": "*", "fontSize": 20, "dy": 11, "baseline": "alphabetic", "align": "center", "color": "#222"}, "encoding": {"x": {"field": "x", "type": "quantitative"}, "y": {"field": "y", "type": "quantitative"}}},
   {"data": {"name": "sep"}, "mark": {"type": "rule", "color": "#999", "strokeDash": [2, 2], "strokeWidth": 1}, "encoding": {"x": {"field": "s", "type": "quantitative"}}}
  ]},
 {"width": 296, "height": 205, "title": "F",
  "layer": [
   {"data": {"name": "box"}, "transform": [{"filter": "datum.p === 'F'"}],
    "encoding": {"x": {"field": "pos", "type": "quantitative", "scale": {"domain": [0.5, 8.5], "nice": false, "zero": false}, "axis": {"values": [2.5, 6.5], "labelExpr": "datum.value < 4.5 ? 'females' : 'males'", "ticks": false, "title": null, "labelFontSize": 17, "labelPadding": 9}}},
    "layer": [
     {"mark": {"type": "rule", "color": "#333", "strokeWidth": 1.5}, "encoding": {"y": {"field": "lo", "type": "quantitative", "scale": {"domain": [0, 40], "nice": false}, "axis": {"values": [0, 10, 20, 30, 40], "title": ["general activity at 8mo", "(line crossings X 1000)"], "titleFontSize": 13.5, "titlePadding": 9, "titleLineHeight": 16}}, "y2": {"field": "hi"}}},
     {"mark": {"type": "tick", "orient": "horizontal", "color": "#333", "size": 13, "thickness": 1.5, "opacity": 1}, "encoding": {"y": {"field": "lo", "type": "quantitative"}}},
     {"mark": {"type": "tick", "orient": "horizontal", "color": "#333", "size": 13, "thickness": 1.5, "opacity": 1}, "encoding": {"y": {"field": "hi", "type": "quantitative"}}},
     {"mark": {"type": "bar", "size": 24, "stroke": "#3a3a3a", "strokeWidth": 1.4}, "encoding": {"y": {"field": "q3", "type": "quantitative"}, "y2": {"field": "q1"},
       "fill": {"field": "g", "type": "nominal", "scale": {"domain": ["WT", "Sim1-Cre", "BACHD", "BACHD/Sim1-Cre"], "range": ["#ffffff", "#d4d4d4", "#1c1c1c", {"expr": "{gradient: 'linear', x1: 0, y1: 0, x2: 0.6, y2: 1.2, stops: [{offset: 0, color: '#ececec'}, {offset: 0.085, color: '#ececec'}, {offset: 0.085, color: '#c4c4c4'}, {offset: 0.125, color: '#c4c4c4'}, {offset: 0.125, color: '#ececec'}, {offset: 0.21, color: '#ececec'}, {offset: 0.21, color: '#c4c4c4'}, {offset: 0.25, color: '#c4c4c4'}, {offset: 0.25, color: '#ececec'}, {offset: 0.335, color: '#ececec'}, {offset: 0.335, color: '#c4c4c4'}, {offset: 0.375, color: '#c4c4c4'}, {offset: 0.375, color: '#ececec'}, {offset: 0.46, color: '#ececec'}, {offset: 0.46, color: '#c4c4c4'}, {offset: 0.5, color: '#c4c4c4'}, {offset: 0.5, color: '#ececec'}, {offset: 0.585, color: '#ececec'}, {offset: 0.585, color: '#c4c4c4'}, {offset: 0.625, color: '#c4c4c4'}, {offset: 0.625, color: '#ececec'}, {offset: 0.71, color: '#ececec'}, {offset: 0.71, color: '#c4c4c4'}, {offset: 0.75, color: '#c4c4c4'}, {offset: 0.75, color: '#ececec'}, {offset: 0.835, color: '#ececec'}, {offset: 0.835, color: '#c4c4c4'}, {offset: 0.875, color: '#c4c4c4'}, {offset: 0.875, color: '#ececec'}, {offset: 0.96, color: '#ececec'}, {offset: 0.96, color: '#c4c4c4'}, {offset: 1, color: '#c4c4c4'}]}"}]},
         "legend": {"orient": "none", "legendX": 117, "legendY": 810, "direction": "horizontal", "title": null, "symbolType": "square", "symbolSize": 400, "symbolStrokeColor": "#444", "symbolStrokeWidth": 1, "labelFont": "Noto Sans", "labelFontSize": 16, "labelColor": "#222", "columnPadding": 30, "labelOffset": 7}}}},
     {"mark": {"type": "tick", "orient": "horizontal", "size": 24, "thickness": 1.5, "opacity": 1}, "encoding": {"y": {"field": "med", "type": "quantitative"}, "color": {"condition": {"test": "datum.g === 'BACHD'", "value": "#d9d9d9"}, "value": "#333"}}},
     {"mark": {"type": "point", "shape": "M-1,0L1,0M0,-1L0,1", "size": 90, "filled": false, "strokeWidth": 1.2, "opacity": 1}, "encoding": {"y": {"field": "mean", "type": "quantitative"}, "stroke": {"condition": {"test": "datum.g === 'BACHD'", "value": "#ffffff"}, "value": "#222"}}}
    ]},
   {"data": {"name": "out"}, "transform": [{"filter": "datum.p === 'F'"}], "mark": {"type": "circle", "size": 14, "color": "#111", "opacity": 1}, "encoding": {"x": {"field": "pos", "type": "quantitative"}, "y": {"field": "v", "type": "quantitative"}}},
   {"data": {"name": "br"}, "transform": [{"filter": "datum.p === 'F'"}], "mark": {"type": "rule", "color": "#555", "strokeWidth": 1.5}, "encoding": {"x": {"field": "x", "type": "quantitative"}, "x2": {"field": "x2"}, "y": {"field": "y", "type": "quantitative"}, "y2": {"field": "y2"}}},
   {"data": {"name": "st"}, "transform": [{"filter": "datum.p === 'F'"}], "mark": {"type": "text", "text": "*", "fontSize": 20, "dy": 11, "baseline": "alphabetic", "align": "center", "color": "#222"}, "encoding": {"x": {"field": "x", "type": "quantitative"}, "y": {"field": "y", "type": "quantitative"}}},
   {"data": {"name": "sep"}, "mark": {"type": "rule", "color": "#999", "strokeDash": [2, 2], "strokeWidth": 1}, "encoding": {"x": {"field": "s", "type": "quantitative"}}}
  ]}
]
}
